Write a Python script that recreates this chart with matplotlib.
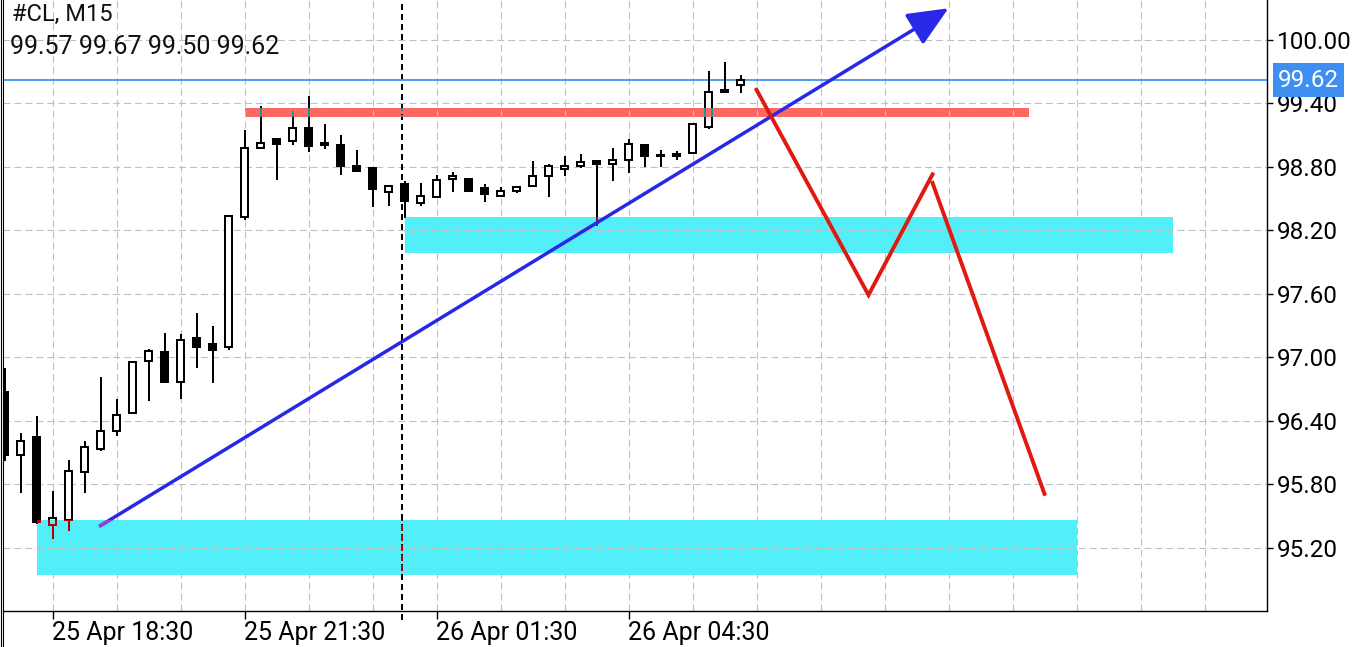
import numpy as np
import matplotlib.pyplot as plt
from matplotlib.patches import Rectangle
from matplotlib.lines import Line2D

plt.rcParams["font.family"] = ["Roboto", "DejaVu Sans"]
plt.rcParams["lines.scale_dashes"] = False

# --- chart data (M15 bars, index 0 = 25 Apr 18:30) ---
SYMBOL = "#CL, M15"
FIRST_BAR = -3
opens = [96.67, 96.08, 96.25, 95.42, 95.46, 95.92, 96.13, 96.30, 96.47, 96.97,
         97.05, 96.77, 97.18, 97.13, 97.10, 98.33, 98.98, 99.06, 99.05, 99.17,
         99.03, 99.01, 98.81, 98.79, 98.56, 98.64, 98.46, 98.52, 98.69, 98.69,
         98.60, 98.53, 98.57, 98.62, 98.71, 98.78, 98.81, 98.86, 98.83, 98.87,
         99.01, 98.91, 98.92, 98.93, 99.18, 99.53, 99.57]
highs = [96.90, 96.29, 96.45, 95.74, 96.03, 96.21, 96.81, 96.61, 96.97, 97.08,
         97.23, 97.22, 97.42, 97.30, 98.35, 99.15, 99.38, 99.07, 99.33, 99.47,
         99.21, 99.10, 98.96, 98.79, 98.62, 98.67, 98.65, 98.72, 98.75, 98.69,
         98.64, 98.61, 98.61, 98.86, 98.83, 98.90, 98.92, 98.86, 98.98, 99.06,
         99.01, 98.96, 98.95, 99.22, 99.71, 99.79, 99.67]
lows = [96.02, 95.72, 95.43, 95.28, 95.36, 95.72, 96.12, 96.26, 96.47, 96.59,
        96.77, 96.61, 96.90, 96.76, 97.07, 98.30, 98.97, 98.68, 99.01, 98.94,
        98.97, 98.72, 98.76, 98.42, 98.43, 98.32, 98.43, 98.52, 98.56, 98.57,
        98.47, 98.52, 98.55, 98.62, 98.52, 98.71, 98.79, 98.24, 98.67, 98.74,
        98.80, 98.80, 98.87, 98.92, 99.16, 99.50, 99.50]
closes = [96.08, 96.21, 95.44, 95.48, 95.93, 96.15, 96.30, 96.46, 96.96, 97.06,
          96.77, 97.16, 97.10, 97.07, 98.34, 98.98, 99.03, 99.02, 99.17, 99.00,
          99.01, 98.81, 98.76, 98.59, 98.62, 98.48, 98.53, 98.68, 98.71, 98.57,
          98.54, 98.57, 98.61, 98.71, 98.81, 98.81, 98.85, 98.83, 98.87, 99.02,
          98.90, 98.90, 98.90, 99.21, 99.51, 99.51, 99.62]

tick_bars = [0, 12, 24, 36]
tick_labels = ["25 Apr 18:30", "25 Apr 21:30", "26 Apr 01:30", "26 Apr 04:30"]
price_ticks = [95.20, 95.80, 96.40, 97.00, 97.60, 98.20, 98.80, 99.40, 100.00]

# --- drawn objects ---
# rectangles: (bar from, bar to, price low, price high)
zone_low = (-1, 64, 94.94, 95.46)
zone_mid = (22, 70, 97.99, 98.33)
zone_res = (12, 61, 99.275, 99.355)
separator_bar = 21.87
trend_bars = [3, 56]
trend_prices = [95.41, 100.30]
zz1_bars = [44, 51, 55]
zz1_prices = [99.53, 97.59, 98.73]
zz2_bars = [55, 62]
zz2_prices = [98.65, 95.71]

CYAN = "#52eff9"
SALMON = "#ff6862"
BLUE_LINE = "#4094f0"
TREND = "#2828e6"
ZZ_RED = "#e01a10"
GRID = "#c0c0c0"

W, H = 1361, 647
fig = plt.figure(figsize=(W / 100, H / 100), dpi=100)
ax = fig.add_axes([2.5 / W, 36 / H, (1267 - 2.5) / W, 611 / H])

x = np.arange(FIRST_BAR, FIRST_BAR + len(closes))
o, hi, lo, c = map(np.array, (opens, highs, lows, closes))
up = c >= o


def draw_candles(edge, up_fill, down_fill, zorder, clip=None):
    wicks = ax.vlines(x, lo, hi, color=edge, lw=1.44, zorder=zorder)
    bars = ax.bar(x, np.abs(c - o), bottom=np.minimum(o, c), width=0.4375,
                  color=np.where(up, up_fill, down_fill), edgecolor=edge,
                  linewidth=1.44, zorder=zorder + 0.05)
    if clip is not None:
        wicks.set_clip_path(clip)
        for b in bars:
            b.set_clip_path(clip)


def add_zone(z, color):
    r = Rectangle((z[0], z[2]), z[1] - z[0], z[3] - z[2], facecolor=color,
                  edgecolor="none", zorder=1)
    ax.add_patch(r)
    return r


r_low = add_zone(zone_low, CYAN)
r_mid = add_zone(zone_mid, CYAN)
r_res = add_zone(zone_res, SALMON)

# current price line
ax.axhline(closes[-1], color=BLUE_LINE, lw=1.3, zorder=2.5)

# separator
sep = ax.axvline(separator_bar, ymin=-0.015, color="black", lw=1.44,
                 linestyle=(0, (4.3, 2.9)), zorder=2, clip_on=False)

draw_candles("black", "white", "black", 3)
# inverted colours where bars cross the background objects (MT style)
for r in (r_low, r_mid):
    draw_candles("#b40000", CYAN, "#b40000", 3.5, clip=r)
    s = ax.axvline(separator_bar, color="#b40000", lw=1.44,
                   linestyle=(0, (4.3, 2.9)), zorder=3.4)
    s.set_clip_path(r)
draw_candles("#139aa0", SALMON, "#139aa0", 3.5, clip=r_res)
s = ax.axvline(separator_bar, color="#139aa0", lw=1.44,
               linestyle=(0, (4.3, 2.9)), zorder=3.4)
s.set_clip_path(r_res)

# trend line with arrow
ax.annotate("", xy=(trend_bars[1], trend_prices[1]),
            xytext=(trend_bars[0], trend_prices[0]),
            arrowprops=dict(arrowstyle="-|>,head_length=2.5,head_width=1.1",
                            mutation_scale=10, color=TREND, lw=2.5,
                            shrinkA=0, shrinkB=0), zorder=4)
pl, = ax.plot(trend_bars, trend_prices, color="#9a3ee6", lw=2.5, zorder=4.1)
pl.set_clip_path(r_low)

# red zigzag projection
ax.plot(zz1_bars, zz1_prices, color=ZZ_RED, lw=2.8, zorder=4,
        solid_joinstyle="miter")
ax.plot(zz2_bars, zz2_prices, color=ZZ_RED, lw=2.8, zorder=4)

# axes styling
ax.set_xlim((2.5 - 52.5) / 16, (1267 - 52.5) / 16)
ax.set_ylim(94.603, 100.378)
ax.set_xticks(tick_bars)
ax.set_xticklabels(tick_labels)
ax.set_xticks(np.arange(0, 76, 4), minor=True)
ax.set_yticks(price_ticks)
ax.set_yticklabels([f"{p:.2f}" for p in price_ticks])
ax.yaxis.tick_right()
ax.tick_params(axis="y", length=4, width=1, pad=3, labelsize=17.5,
               direction="out")
ax.tick_params(axis="x", which="major", length=6, width=1, pad=1.5,
               labelsize=18, direction="out")
ax.tick_params(axis="x", which="minor", length=0)
for lab in ax.get_xticklabels():
    lab.set_horizontalalignment("left")
ax.grid(True, which="both", color=GRID, lw=0.8, linestyle=(0, (5, 2.9)))
ax.spines["top"].set_visible(False)
ax.spines["left"].set_visible(False)
for sp in ("right", "bottom"):
    ax.spines[sp].set_linewidth(1.0)

# left double border
for px in (0.6, 2.6):
    fig.add_artist(Line2D([px / W, px / W], [0, 1], color="black", lw=0.8))

# current price tag on the scale
ax.annotate(f"{closes[-1]:.2f}", xy=(1, closes[-1]), xycoords=("axes fraction", "data"),
            xytext=(8, 0), textcoords="offset points", va="center", ha="left",
            fontsize=17.5, color="white", annotation_clip=False,
            bbox=dict(boxstyle="square,pad=0.22", fc="#3f8ef2", ec="none"),
            zorder=6)

# header
fig.text(12 / W, 1 - 21 / H, SYMBOL, fontsize=17, va="baseline", ha="left",
         color="#111111")
fig.text(10 / W, 1 - 54 / H,
         f"{opens[-1]:.2f} {highs[-1]:.2f} {lows[-1]:.2f} {closes[-1]:.2f}",
         fontsize=18, va="baseline", ha="left", color="#111111")

fig.savefig("out.png", dpi=100)
